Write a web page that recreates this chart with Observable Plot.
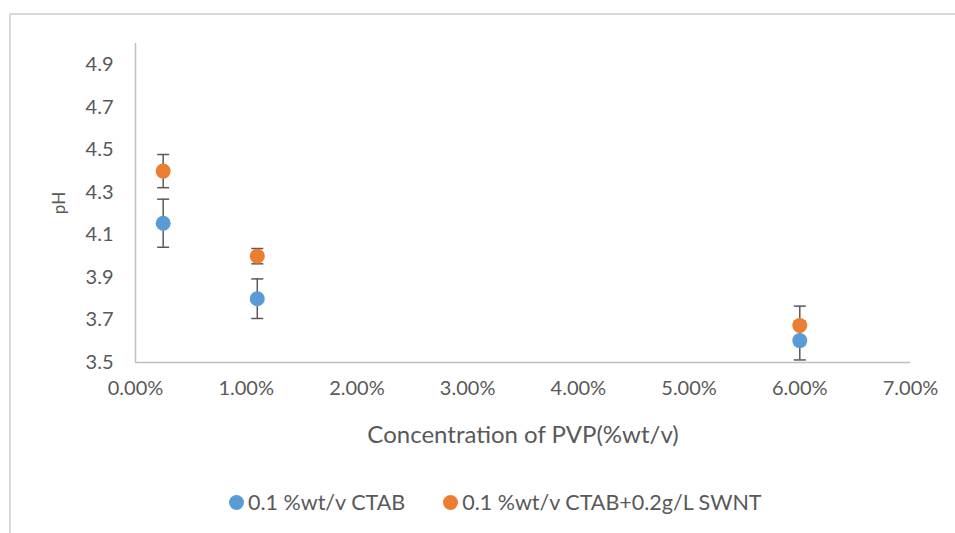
<!DOCTYPE html>
<html>
<head>
<meta charset="utf-8">
<script src="https://cdn.jsdelivr.net/npm/d3@7"></script>
<script src="https://cdn.jsdelivr.net/npm/@observablehq/plot@0.6"></script>
<style>
  html, body { margin: 0; padding: 0; background: #fff; }
  body { width: 955px; height: 533px; position: relative; overflow: hidden; font-family: Lato, "Open Sans", sans-serif; }
  #frame { position: absolute; left: 9px; top: 13px; width: 960px; height: 540px; border-top: 2px solid #d9d9d9; border-left: 2px solid #d9d9d9; box-sizing: border-box; }
  #chart { position: absolute; left: 0; top: 0; }
  #legend { position: absolute; left: 229px; top: 489px; display: flex; align-items: center; font-size: 21.5px; color: #595959; }
  .item { display: flex; align-items: center; }
  .sw { width: 15px; height: 15px; border-radius: 50%; margin-right: 4px; }
</style>
</head>
<body>
<div id="frame"></div>
<div id="chart"></div>
<div id="legend"></div>
<script>
// Data
const concentration = [0.0025, 0.011, 0.06];           // PVP %wt/v (fraction)
const ctab = [4.155, 3.80, 3.603];                      // 0.1 %wt/v CTAB
const ctabErr = [0.113, 0.093, 0.091];
const ctabSwnt = [4.40, 4.00, 3.674];                   // 0.1 %wt/v CTAB+0.2g/L SWNT
const ctabSwntErr = [0.078, 0.036, 0.091];
const seriesNames = ["0.1 %wt/v CTAB", "0.1 %wt/v CTAB+0.2g/L SWNT"];
const seriesColors = ["#5b9bd5", "#ed7d31"];
const xTicks = [0, 0.01, 0.02, 0.03, 0.04, 0.05, 0.06, 0.07];
const yTicks = [3.5, 3.7, 3.9, 4.1, 4.3, 4.5, 4.7, 4.9];

const rows = [];
concentration.forEach((c, i) => {
  rows.push({series: seriesNames[1], x: c, y: ctabSwnt[i], e: ctabSwntErr[i]});
});
concentration.forEach((c, i) => {
  rows.push({series: seriesNames[0], x: c, y: ctab[i], e: ctabErr[i]});
});

const cap = {draw(ctx) { ctx.moveTo(-6, 0); ctx.lineTo(6, 0); }};
const errColor = "#595959";

const plot = Plot.plot({
  width: 955,
  height: 450,
  marginLeft: 135,
  marginRight: 45,
  marginTop: 43,
  marginBottom: 88,
  style: {fontFamily: "Lato, 'Open Sans', sans-serif", fontSize: "20px", color: "#595959", background: "transparent"},
  x: {domain: [0, 0.07]},
  y: {domain: [3.5, 5.0]},
  color: {domain: seriesNames, range: seriesColors},
  marks: [
    Plot.ruleY([3.5], {stroke: "#bfbfbf", strokeWidth: 1.5}),
    Plot.ruleX([0], {stroke: "#bfbfbf", strokeWidth: 1.5}),
    Plot.axisX({ticks: xTicks, tickFormat: d3.format(".2%"), tickSize: 0, tickPadding: 18, fontSize: 20, label: null}),
    Plot.axisX({ticks: [], fontSize: 24,
      label: "Concentration of PVP(%wt/v)", labelAnchor: "center", labelOffset: 80, labelArrow: "none"}),
    Plot.axisY({ticks: yTicks, tickFormat: d3.format(".1f"), tickSize: 0, tickPadding: 22, fontSize: 20, label: null}),
    Plot.axisY({ticks: [], fontSize: 17,
      label: "pH", labelAnchor: "center", labelOffset: 83, labelArrow: "none"}),
    Plot.ruleX(rows, {x: "x", y1: d => d.y - d.e, y2: d => d.y + d.e, stroke: errColor, strokeWidth: 1.5}),
    Plot.dot(rows, {x: "x", y: d => d.y - d.e, symbol: cap, stroke: errColor, strokeWidth: 1.5}),
    Plot.dot(rows, {x: "x", y: d => d.y + d.e, symbol: cap, stroke: errColor, strokeWidth: 1.5}),
    Plot.dot(rows, {x: "x", y: "y", fill: "series", r: 7.5})
  ]
});
document.getElementById("chart").appendChild(plot);

const legend = document.getElementById("legend");
seriesNames.forEach((name, i) => {
  const it = document.createElement("div");
  it.className = "item";
  if (i > 0) it.style.marginLeft = "38px";
  const sw = document.createElement("span");
  sw.className = "sw";
  sw.style.background = seriesColors[i];
  const tx = document.createElement("span");
  tx.textContent = name;
  it.appendChild(sw);
  it.appendChild(tx);
  legend.appendChild(it);
});
</script>
</body>
</html>
